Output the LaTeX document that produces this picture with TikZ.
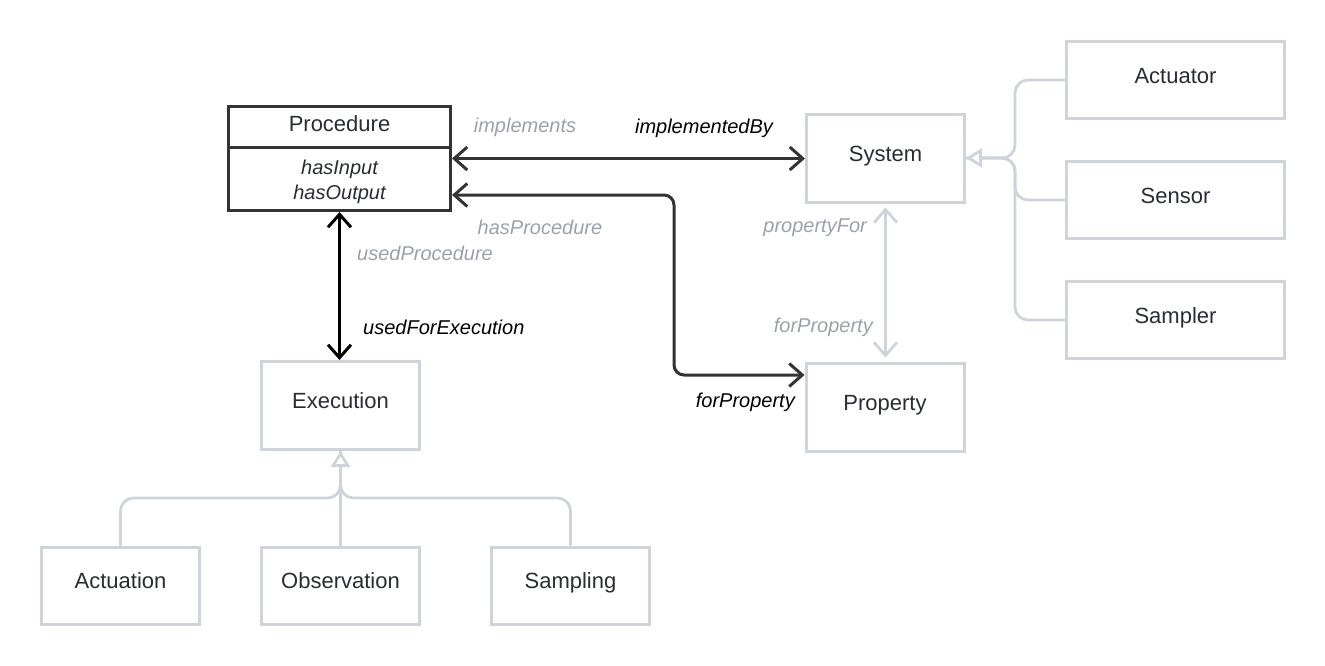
\documentclass[tikz,border=0pt]{standalone}
\usepackage{fontspec}
\setmainfont{Liberation Sans}
\usetikzlibrary{arrows.meta}

\definecolor{boxgray}{RGB}{206,212,220}
\definecolor{labgray}{RGB}{155,161,171}
\definecolor{darkline}{RGB}{51,51,51}
\definecolor{textdark}{RGB}{40,44,51}

\begin{document}
\begin{tikzpicture}[x=1pt, y=-1pt,
  cls/.style={draw=boxgray, line width=3pt, minimum width=158pt, minimum height=88pt,
    inner sep=0pt, text=textdark, text height=0.75em, text depth=0.15em,
    font=\fontsize{22}{26}\selectfont},
  small/.style={cls, minimum height=77pt},
  wide/.style={cls, minimum width=218pt, minimum height=77pt},
  rel/.style={inner sep=0pt, font=\fontsize{20}{24}\selectfont\itshape},
  barb/.tip={Straight Barb[length=13pt, width=23pt]},
  assoc/.style={draw=darkline, line width=3pt, barb-barb},
  assocgray/.style={draw=boxgray, line width=2.8pt, barb-barb},
  gen/.style={draw=boxgray, line width=2.8pt, rounded corners=13pt},
  genhead/.style={-{Triangle[open, fill=white, length=16pt, width=19pt]}}]
  \useasboundingbox (0,0) rectangle (1325,665);

  % classes
  \draw (339.5, 158.5) node[cls, draw=darkline, minimum width=222pt, minimum height=104pt] (proc) {};
  \draw (339.5, 124)   node[inner sep=0pt, text=textdark, font=\fontsize{22}{26}\selectfont] (proctitle) {Procedure};
  \draw (339.5, 181.5) node[rel, text=textdark, align=center, font=\fontsize{20}{25}\selectfont\itshape] (procattr) {hasInput\\hasOutput};
  \coordinate (procsep) at (339.5, 147);
  \draw[draw=darkline, line width=3pt] (proc.west |- procsep) -- (proc.east |- procsep);

  \draw (885.5, 158)   node[cls] (sys) {System};
  \draw (885, 407)     node[cls] (prop) {Property};
  \draw (340.5, 405.5) node[cls] (exec) {Execution};
  \draw (1175.5, 80)   node[wide] (actr) {Actuator};
  \draw (1175.5, 200)  node[wide] (snsr) {Sensor};
  \draw (1175.5, 320)  node[wide] (smplr) {Sampler};
  \draw (120.5, 585.5) node[small] (actn) {Actuation};
  \draw (340.5, 585.5) node[small] (obsn) {Observation};
  \draw (570.5, 585.5) node[small] (smpl) {Sampling};

  % subclass links
  \coordinate (execbus) at (340.5, 498);
  \coordinate (sysbus) at (1015, 158);
  \draw[gen] (actn.north) |- (execbus) -- (exec.south);
  \draw[gen] (smpl.north) |- (execbus) -- (exec.south);
  \draw[gen, genhead] (obsn.north) -- (exec.south);
  \draw[gen] (actr.west) -| (sysbus) -- (sys.east);
  \draw[gen] (smplr.west) -| (sysbus) -- (sys.east);
  \draw[gen, genhead] (snsr.west) -| (sysbus) -- (sys.east);

  % relations
  \coordinate (hpcol) at (674, 375);
  \draw[assoc] (proc.east) -- (proc.east -| sys.west);
  \draw[assoc, rounded corners=10pt] ([yshift=-36.5pt]proc.east) -| (hpcol) -- ([yshift=32pt]prop.west);
  \draw[assoc, draw=black] (proc.south) -- (proc.south |- exec.north);
  \draw[assocgray, shorten <=4pt, shorten >=4pt] (sys.south) -- (sys.south |- prop.north);

  % labels
  \draw (525, 127) node[rel, text=labgray] (lblimpl) {implements};
  \draw (704, 128) node[rel, text=black] (lblimplby) {implementedBy};
  \draw (540, 227) node[rel, text=labgray] (lblhasproc) {hasProcedure};
  \draw (357, 253) node[rel, text=labgray, anchor=west] (lblusedproc) {usedProcedure};
  \draw (363, 327) node[rel, text=black, anchor=west] (lblusedexec) {usedForExecution};
  \draw (867, 228) node[rel, text=labgray, anchor=east] (lblpropfor) {propertyFor};
  \draw (873, 327) node[rel, text=labgray, anchor=east] (lblforpropg) {forProperty};
  \draw (795, 402) node[rel, text=black, anchor=east] (lblforprop) {forProperty};
\end{tikzpicture}
\end{document}
